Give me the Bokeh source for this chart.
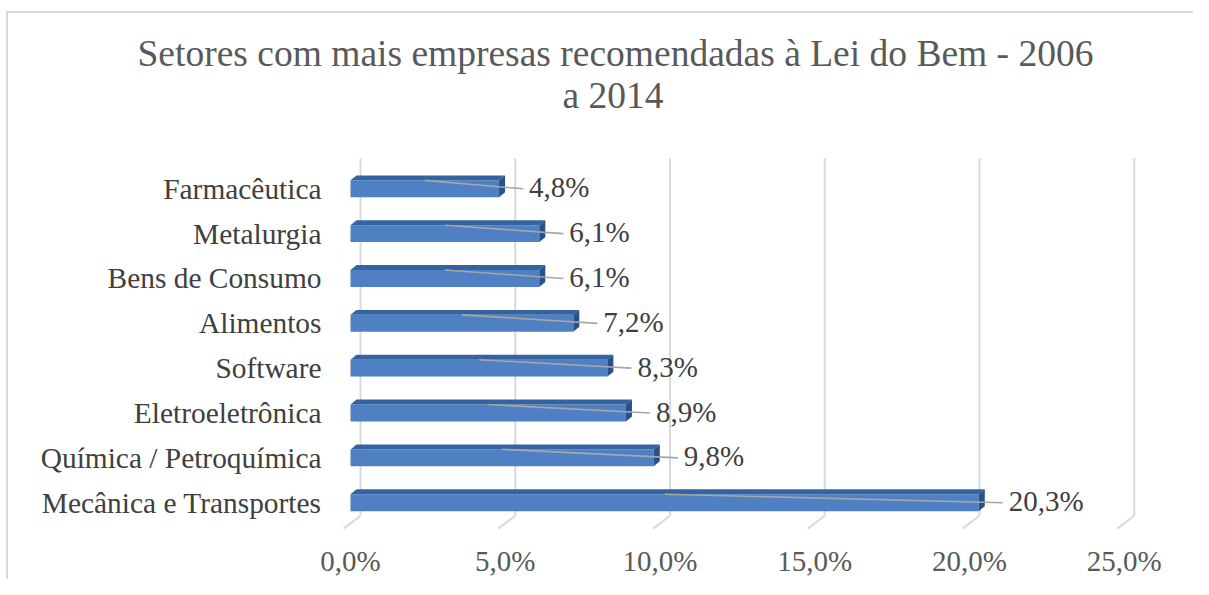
from bokeh.plotting import figure
from bokeh.models import Range1d, FixedTicker, Title
from bokeh.core.properties import value
from bokeh.embed import file_html
from bokeh.resources import INLINE

# ---------------- data ----------------
categories = ["Mecânica e Transportes", "Química / Petroquímica", "Eletroeletrônica",
              "Software", "Alimentos", "Bens de Consumo", "Metalurgia", "Farmacêutica"]
values = [20.3, 9.8, 8.9, 8.3, 7.2, 6.1, 6.1, 4.8]
value_labels = ["20,3%", "9,8%", "8,9%", "8,3%", "7,2%", "6,1%", "6,1%", "4,8%"]
x_ticks = [0, 5, 10, 15, 20, 25]
x_tick_labels = ["0,0%", "5,0%", "10,0%", "15,0%", "20,0%", "25,0%"]
title_lines = ["Setores com mais empresas recomendadas à Lei do Bem - 2006", "a 2014"]

# ---------------- style / geometry ----------------
FONT = "Liberation Serif"
SX = 30.95   # px per x unit
SY = 45.07   # px per category
PX = 1.0 / SX
PY = 1.0 / SY
BAR_H = 17 * PY
DEPTH_X = 6 * PX
DEPTH_Y = 5 * PY
GRID_BACK = 10 * PX
FOOT_DX = -17 * PX
FOOT_DY = 13 * PY
GRID_TOP = len(categories) - 1 + 0.68
GRID_BASE = -0.29

FRONT = "#4e80c3"
TOP = "#34649f"
SIDE = "#2a5088"
GRID = "#d9d9d9"

p = figure(width=1193, height=579, output_backend="svg", toolbar_location=None,
           x_range=Range1d(-20 * PX, 800 * PX), y_range=Range1d(-36 * PY, 354 * PY),
           min_border_left=330, min_border_right=43, min_border_top=150, min_border_bottom=39)
p.styles = {"background": "white",
            "box-shadow": "inset 6px 11px 0 0 white, inset 8px 13px 0 0 #d9d9d9"}
p.outline_line_color = None
p.xgrid.grid_line_color = None
p.ygrid.grid_line_color = None
p.background_fill_color = "white"
p.border_fill_color = None

ys = list(range(len(categories)))

# ---- 3D gridlines (back wall + floor feet) ----
gx_back = [t + GRID_BACK for t in x_ticks]
p.segment(x0=gx_back, y0=[GRID_BASE] * len(x_ticks), x1=gx_back, y1=[GRID_TOP] * len(x_ticks),
          line_color=GRID, line_width=2)
p.segment(x0=gx_back, y0=[GRID_BASE] * len(x_ticks),
          x1=[g + FOOT_DX for g in gx_back], y1=[GRID_BASE - FOOT_DY] * len(x_ticks),
          line_color=GRID, line_width=2)

# ---- bars ----
p.hbar(y=ys, left=0, right=values, height=BAR_H, fill_color=FRONT, line_color=None)
top_xs, top_ys, side_xs, side_ys = [], [], [], []
for k, v in zip(ys, values):
    yt = k + BAR_H / 2
    yb = k - BAR_H / 2
    top_xs.append([0, v, v + DEPTH_X, DEPTH_X])
    top_ys.append([yt, yt, yt + DEPTH_Y, yt + DEPTH_Y])
    side_xs.append([v, v, v + DEPTH_X, v + DEPTH_X])
    side_ys.append([yb, yt, yt + DEPTH_Y, yb + DEPTH_Y])
p.patches(xs=top_xs, ys=top_ys, fill_color=TOP, line_color=None)
p.patches(xs=side_xs, ys=side_ys, fill_color=SIDE, line_color=None)

# ---- leader lines and data labels ----
p.segment(x0=[v / 2 for v in values], y0=[k + BAR_H / 2 for k in ys],
          x1=[v + 24 * PX for v in values], y1=ys,
          line_color="#a6a6a6", line_width=1.6)
p.text(x=[v + 30 * PX for v in values], y=[k + 1.5 * PY for k in ys], text=value_labels,
       text_font=value(FONT), text_font_size="29px", text_color="#404040",
       text_align="left", text_baseline="middle")

# ---- axes ----
p.yaxis.ticker = FixedTicker(ticks=ys)
p.yaxis.major_label_overrides = {k: c for k, c in zip(ys, categories)}
p.yaxis.axis_line_color = None
p.yaxis.major_tick_line_color = None
p.yaxis.minor_tick_line_color = None
p.yaxis.major_label_text_font = FONT
p.yaxis.major_label_text_font_size = "29.4px"
p.yaxis.major_label_text_color = "#404040"
p.yaxis.major_label_standoff = 3

p.xaxis.ticker = FixedTicker(ticks=x_ticks)
p.xaxis.major_label_overrides = {t: l for t, l in zip(x_ticks, x_tick_labels)}
p.xaxis.axis_line_color = None
p.xaxis.major_tick_line_color = None
p.xaxis.minor_tick_line_color = None
p.xaxis.major_label_text_font = FONT
p.xaxis.major_label_text_font_size = "29px"
p.xaxis.major_label_text_color = "#595959"
p.xaxis.major_label_standoff = 0

# ---- title (two lines) ----
p.title.text = title_lines[0]
p.title.text_font = FONT
p.title.text_font_size = "37.5px"
p.title.text_font_style = "normal"
p.title.text_color = "#595959"
p.title.align = "left"
p.title.offset = -193
p.title.standoff = -70
p.add_layout(Title(text=title_lines[1], text_font=FONT, text_font_size="37.5px",
                   text_font_style="normal", text_color="#595959",
                   align="left", offset=232, standoff=69), "above")

open("out.html", "w").write(file_html(p, INLINE))
